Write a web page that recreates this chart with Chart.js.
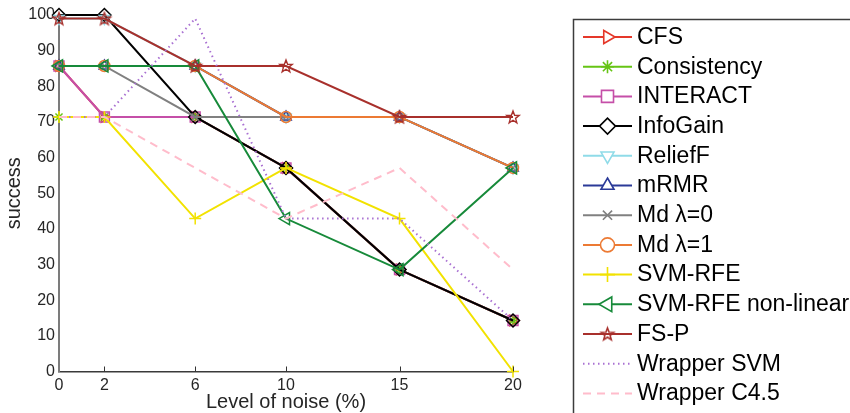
<!DOCTYPE html>
<html>
<head>
<meta charset="utf-8">
<script src="https://cdn.jsdelivr.net/npm/chart.js@4/dist/chart.umd.min.js"></script>
<style>
  html, body { margin: 0; padding: 0; background: #ffffff; }
  canvas { display: block; }
</style>
</head>
<body>
<canvas id="chart" width="850" height="413"></canvas>
<script>
// Noise levels (x) and tick labels
const noiseLevels = [0, 2, 6, 10, 15, 20];
const xTickValues = [0, 2, 6, 10, 15, 20];
const yTickValues = [0, 10, 20, 30, 40, 50, 60, 70, 80, 90, 100];

// Success (%) of each feature selection method per noise level
const cfs          = [85.7, 71.4, 71.4, 57.1, 28.6, 14.3];
const consistency  = [71.4, 71.4, 71.4, 57.1, 28.6, 14.3];
const interact     = [85.7, 71.4, 71.4, 57.1, 28.6, 14.3];
const infoGain     = [100, 100, 71.4, 57.1, 28.6, 14.3];
const reliefF      = [99, 99, 85.7, 71.4, 71.4, 57.1];
const mrmr         = [85.7, 85.7, 85.7, 71.4, 71.4, 57.1];
const mdLambda0    = [85.7, 85.7, 71.4, 71.4, 71.4, 57.1];
const mdLambda1    = [85.7, 85.7, 85.7, 71.4, 71.4, 57.1];
const svmRfe       = [71.4, 71.4, 42.9, 57.1, 42.9, 0];
const svmRfeNonLin = [85.7, 85.7, 85.7, 42.9, 28.6, 57.1];
const fsP          = [99, 99, 85.7, 85.7, 71.4, 71.4];
const wrapperSvm   = [71.4, 71.4, 99, 42.9, 42.9, 14.3];
const wrapperC45   = [71.4, 71.4, 57.1, 42.9, 57.1, 28.6];

const seriesLabels = ['CFS', 'Consistency', 'INTERACT', 'InfoGain', 'ReliefF', 'mRMR',
  'Md \u03bb=0', 'Md \u03bb=1', 'SVM-RFE', 'SVM-RFE non-linear', 'FS-P', 'Wrapper SVM', 'Wrapper C4.5'];
const seriesValues = [cfs, consistency, interact, infoGain, reliefF, mrmr,
  mdLambda0, mdLambda1, svmRfe, svmRfeNonLin, fsP, wrapperSvm, wrapperC45];

// Hollow five-pointed star marker
function makePentagram(color, r, lw) {
  const s = Math.ceil(2 * r + 2 * lw + 2);
  const cv = document.createElement('canvas');
  cv.width = s; cv.height = s;
  const g = cv.getContext('2d');
  g.strokeStyle = color;
  g.lineWidth = lw;
  g.lineJoin = 'miter';
  g.beginPath();
  for (let k = 0; k < 10; k++) {
    const rr = (k % 2) ? r * 0.42 : r;
    const a = -Math.PI / 2 + k * Math.PI / 5;
    const px = s / 2 + rr * Math.cos(a), py = s / 2 + 0.5 + rr * Math.sin(a);
    if (k === 0) g.moveTo(px, py); else g.lineTo(px, py);
  }
  g.closePath();
  g.stroke();
  return cv;
}

const starMarker = makePentagram('#a8302c', 6.5, 1.4);
const starMarkerLegend = makePentagram('#a8302c', 6.5, 1.6);

// Line and marker styles per series
const seriesStyles = [
  { color: '#e5382a', marker: 'triangle', rotation: 90, radius: 6 },
  { color: '#66c414', marker: 'star', rotation: 0, radius: 5 },
  { color: '#c54fa8', marker: 'rect', rotation: 0, radius: 7 },
  { color: '#000000', marker: 'rectRot', rotation: 0, radius: 6.5 },
  { color: '#8fdbe8', marker: 'triangle', rotation: 180, radius: 6 },
  { color: '#2b3a98', marker: 'triangle', rotation: 0, radius: 6 },
  { color: '#808080', marker: 'crossRot', rotation: 0, radius: 5 },
  { color: '#ec7a34', marker: 'circle', rotation: 0, radius: 5.5 },
  { color: '#f2e200', marker: 'cross', rotation: 0, radius: 6 },
  { color: '#178a3a', marker: 'triangle', rotation: -90, radius: 7 },
  { color: '#a8302c', marker: starMarker, legendMarker: starMarkerLegend, rotation: 0, radius: 6 },
  { color: '#a970d2', marker: false, rotation: 0, radius: 0, dash: [1.5, 3.5] },
  { color: '#ffbccb', marker: false, rotation: 0, radius: 0, dash: [8, 6] }
];

const n = seriesLabels.length;
const datasets = seriesLabels.map((label, i) => {
  const st = seriesStyles[i];
  return {
    label: label,
    data: noiseLevels.map((x, k) => ({ x: x, y: seriesValues[i][k] })),
    borderColor: st.color,
    borderWidth: 2,
    borderDash: st.dash || [],
    pointStyle: st.marker,
    pointRotation: st.rotation,
    pointRadius: st.marker ? st.radius : 0,
    pointHoverRadius: st.marker ? st.radius : 0,
    pointBorderWidth: 1.5,
    pointBorderColor: st.color,
    pointBackgroundColor: 'rgba(0,0,0,0)',
    tension: 0,
    fill: false,
    clip: false,
    order: n - 1 - i
  };
});

// Short inward tick marks on the x axis
const innerTicks = {
  id: 'innerTicks',
  afterDatasetsDraw(chart) {
    const { ctx, scales: { x, y } } = chart;
    ctx.save();
    ctx.strokeStyle = '#333333';
    ctx.lineWidth = 1;
    xTickValues.forEach(v => {
      if (v === 0) return;
      const px = Math.round(x.getPixelForValue(v)) + 0.5;
      ctx.beginPath();
      ctx.moveTo(px, y.bottom);
      ctx.lineTo(px, y.bottom - 5);
      ctx.stroke();
    });
    ctx.restore();
  }
};

// Boxed legend on the right with line + marker samples
const boxLegend = {
  id: 'boxLegend',
  afterDraw(chart) {
    const ctx = chart.ctx;
    ctx.save();
    ctx.strokeStyle = '#3c3c3c';
    ctx.lineWidth = 1.5;
    ctx.strokeRect(573.5, 19.5, 320, 420);
    const x0 = 583, x1 = 632, xm = 607.5;
    seriesLabels.forEach((label, i) => {
      const st = seriesStyles[i];
      const yy = 37 + i * 29.7;
      ctx.save();
      ctx.strokeStyle = st.color;
      ctx.lineWidth = 2;
      ctx.setLineDash(st.dash || []);
      ctx.beginPath();
      ctx.moveTo(x0, yy);
      ctx.lineTo(x1, yy);
      ctx.stroke();
      ctx.setLineDash([]);
      if (st.marker) {
        ctx.fillStyle = '#ffffff';
        ctx.strokeStyle = st.color;
        ctx.lineWidth = 1.6;
        Chart.helpers.drawPoint(ctx, {
          pointStyle: st.legendMarker || st.marker,
          rotation: st.rotation,
          radius: st.radius + 1.5,
          borderWidth: 1.6
        }, xm, yy);
      }
      ctx.restore();
      ctx.fillStyle = '#000000';
      ctx.font = '23px "Liberation Sans", Arial, sans-serif';
      ctx.textAlign = 'left';
      ctx.textBaseline = 'middle';
      ctx.fillText(label, 637, yy + 0.5);
    });
    ctx.restore();
  }
};

new Chart(document.getElementById('chart'), {
  type: 'line',
  data: { datasets: datasets },
  plugins: [innerTicks, boxLegend],
  options: {
    responsive: false,
    animation: false,
    devicePixelRatio: 1,
    layout: { padding: { left: 0, top: 15, right: 337, bottom: 0 } },
    plugins: { legend: { display: false }, tooltip: { enabled: false } },
    events: [],
    scales: {
      x: {
        type: 'linear',
        min: 0,
        max: 20,
        afterBuildTicks(scale) { scale.ticks = xTickValues.map(v => ({ value: v })); },
        afterFit(scale) { scale.height = 41.5; },
        grid: { display: false, drawTicks: false },
        border: { display: true, color: '#3a3a3a', width: 1.5 },
        ticks: {
          padding: 4,
          color: '#262626',
          font: { family: '"Liberation Sans", Arial, sans-serif', size: 16 },
          maxRotation: 0,
          autoSkip: false
        },
        title: {
          display: true,
          text: 'Level of noise (%)',
          color: '#262626',
          font: { family: '"Liberation Sans", Arial, sans-serif', size: 20 },
          padding: { top: 0, bottom: -1 }
        }
      },
      y: {
        type: 'linear',
        min: 0,
        max: 100,
        afterBuildTicks(scale) { scale.ticks = yTickValues.map(v => ({ value: v })); },
        afterFit(scale) { scale.width = 59; },
        grid: { display: false, drawTicks: false },
        border: { display: true, color: '#7c7c7c', width: 2 },
        ticks: {
          padding: 4,
          color: '#262626',
          font: { family: '"Liberation Sans", Arial, sans-serif', size: 16 }
        },
        title: {
          display: true,
          text: 'success',
          color: '#262626',
          font: { family: '"Liberation Sans", Arial, sans-serif', size: 20 },
          padding: { top: 2, bottom: 0 }
        }
      }
    }
  }
});
</script>
</body>
</html>
